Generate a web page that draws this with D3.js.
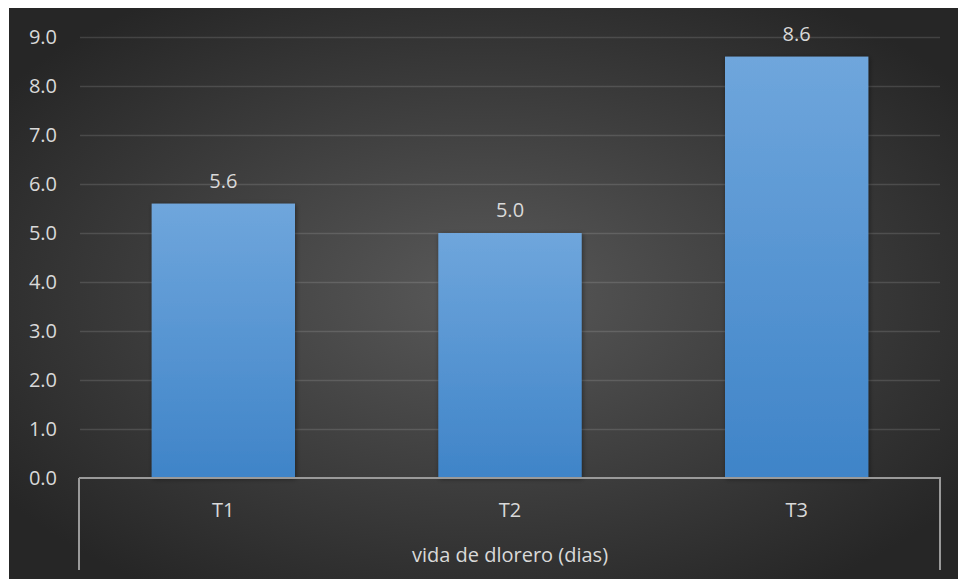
<!DOCTYPE html>
<html>
<head>
<meta charset="utf-8">
<script src="https://cdn.jsdelivr.net/npm/d3@7/dist/d3.min.js"></script>
<style>
  html, body { margin: 0; padding: 0; background: #ffffff; }
  svg { display: block; }
  text { font-family: "Open Sans", "Noto Sans", sans-serif; }
</style>
</head>
<body>
<svg id="chart" width="958" height="579"></svg>
<script>
// Vase life per treatment
const categories = ["T1", "T2", "T3"];
const values = [5.6, 5.0, 8.6];
const yTicks = [0, 1, 2, 3, 4, 5, 6, 7, 8, 9];
const axisTitle = "vida de dlorero (dias)";

const W = 958, H = 579;
const FS = 20;
const svg = d3.select("#chart");
const defs = svg.append("defs");

// Panel background: soft radial glow on dark grey
const bg = defs.append("radialGradient").attr("id", "bgGrad")
  .attr("cx", "50%").attr("cy", "50%").attr("r", "62%");
bg.append("stop").attr("offset", "0%").attr("stop-color", "#595959");
bg.append("stop").attr("offset", "100%").attr("stop-color", "#262626");

// Bar fill: lighter at the top
const barGrad = defs.append("linearGradient").attr("id", "barGrad")
  .attr("x1", 0).attr("y1", 0).attr("x2", 0).attr("y2", 1);
barGrad.append("stop").attr("offset", "0%").attr("stop-color", "#6fa6dc");
barGrad.append("stop").attr("offset", "100%").attr("stop-color", "#3f84c8");

const shadow = defs.append("filter").attr("id", "barShadow")
  .attr("x", "-20%").attr("y", "-20%").attr("width", "140%").attr("height", "140%");
shadow.append("feDropShadow").attr("dx", 1).attr("dy", 1).attr("stdDeviation", 2.5)
  .attr("flood-color", "#000").attr("flood-opacity", 0.45);

svg.append("rect").attr("x", 9).attr("y", 8).attr("width", W - 9).attr("height", H - 8)
  .attr("fill", "url(#bgGrad)");

const plot = { left: 80, right: 940, top: 37, bottom: 478 };

const x = d3.scaleBand().domain(categories).range([plot.left, plot.right]).paddingInner(0.5).paddingOuter(0.25);
const y = d3.scaleLinear().domain([0, 9]).range([plot.bottom, plot.top]);

// Horizontal gridlines
svg.append("g")
  .selectAll("line").data(yTicks.filter(d => d > 0)).join("line")
  .attr("x1", plot.left).attr("x2", plot.right)
  .attr("y1", d => Math.round(y(d)) + 0.5).attr("y2", d => Math.round(y(d)) + 0.5)
  .attr("stroke", "#ffffff").attr("stroke-opacity", 0.13).attr("stroke-width", 1.3);

// Y tick labels
svg.append("g")
  .selectAll("text").data(yTicks).join("text")
  .attr("x", 57).attr("y", d => y(d))
  .attr("dy", "0.35em").attr("text-anchor", "end")
  .attr("font-size", FS).attr("fill", "#d9d9d9")
  .text(d3.format(".1f"));

// Bars
svg.append("g")
  .selectAll("rect").data(values).join("rect")
  .attr("x", (d, i) => x(categories[i]))
  .attr("width", x.bandwidth())
  .attr("y", d => y(d))
  .attr("height", d => y(0) - y(d))
  .attr("fill", "url(#barGrad)")
  .attr("filter", "url(#barShadow)");

// Value labels
svg.append("g")
  .selectAll("text").data(values).join("text")
  .attr("x", (d, i) => x(categories[i]) + x.bandwidth() / 2)
  .attr("y", d => y(d) - 16)
  .attr("text-anchor", "middle")
  .attr("font-size", FS).attr("fill", "#d9d9d9")
  .text(d3.format(".1f"));

// Category axis: baseline plus outer brackets
const axisColor = "#9a9a9a";
svg.append("line").attr("x1", plot.left - 1).attr("x2", plot.right + 1)
  .attr("y1", plot.bottom).attr("y2", plot.bottom)
  .attr("stroke", axisColor).attr("stroke-width", 2);
[plot.left - 1, plot.right].forEach(xx => {
  svg.append("line").attr("x1", xx).attr("x2", xx)
    .attr("y1", plot.bottom).attr("y2", 570)
    .attr("stroke", axisColor).attr("stroke-width", 2);
});

svg.append("g")
  .selectAll("text").data(categories).join("text")
  .attr("x", d => x(d) + x.bandwidth() / 2)
  .attr("y", 517)
  .attr("text-anchor", "middle")
  .attr("font-size", FS).attr("fill", "#d9d9d9")
  .text(d => d);

svg.append("text")
  .attr("x", (plot.left + plot.right) / 2).attr("y", 562)
  .attr("text-anchor", "middle")
  .attr("font-size", FS).attr("fill", "#d9d9d9")
  .text(axisTitle);
</script>
</body>
</html>
